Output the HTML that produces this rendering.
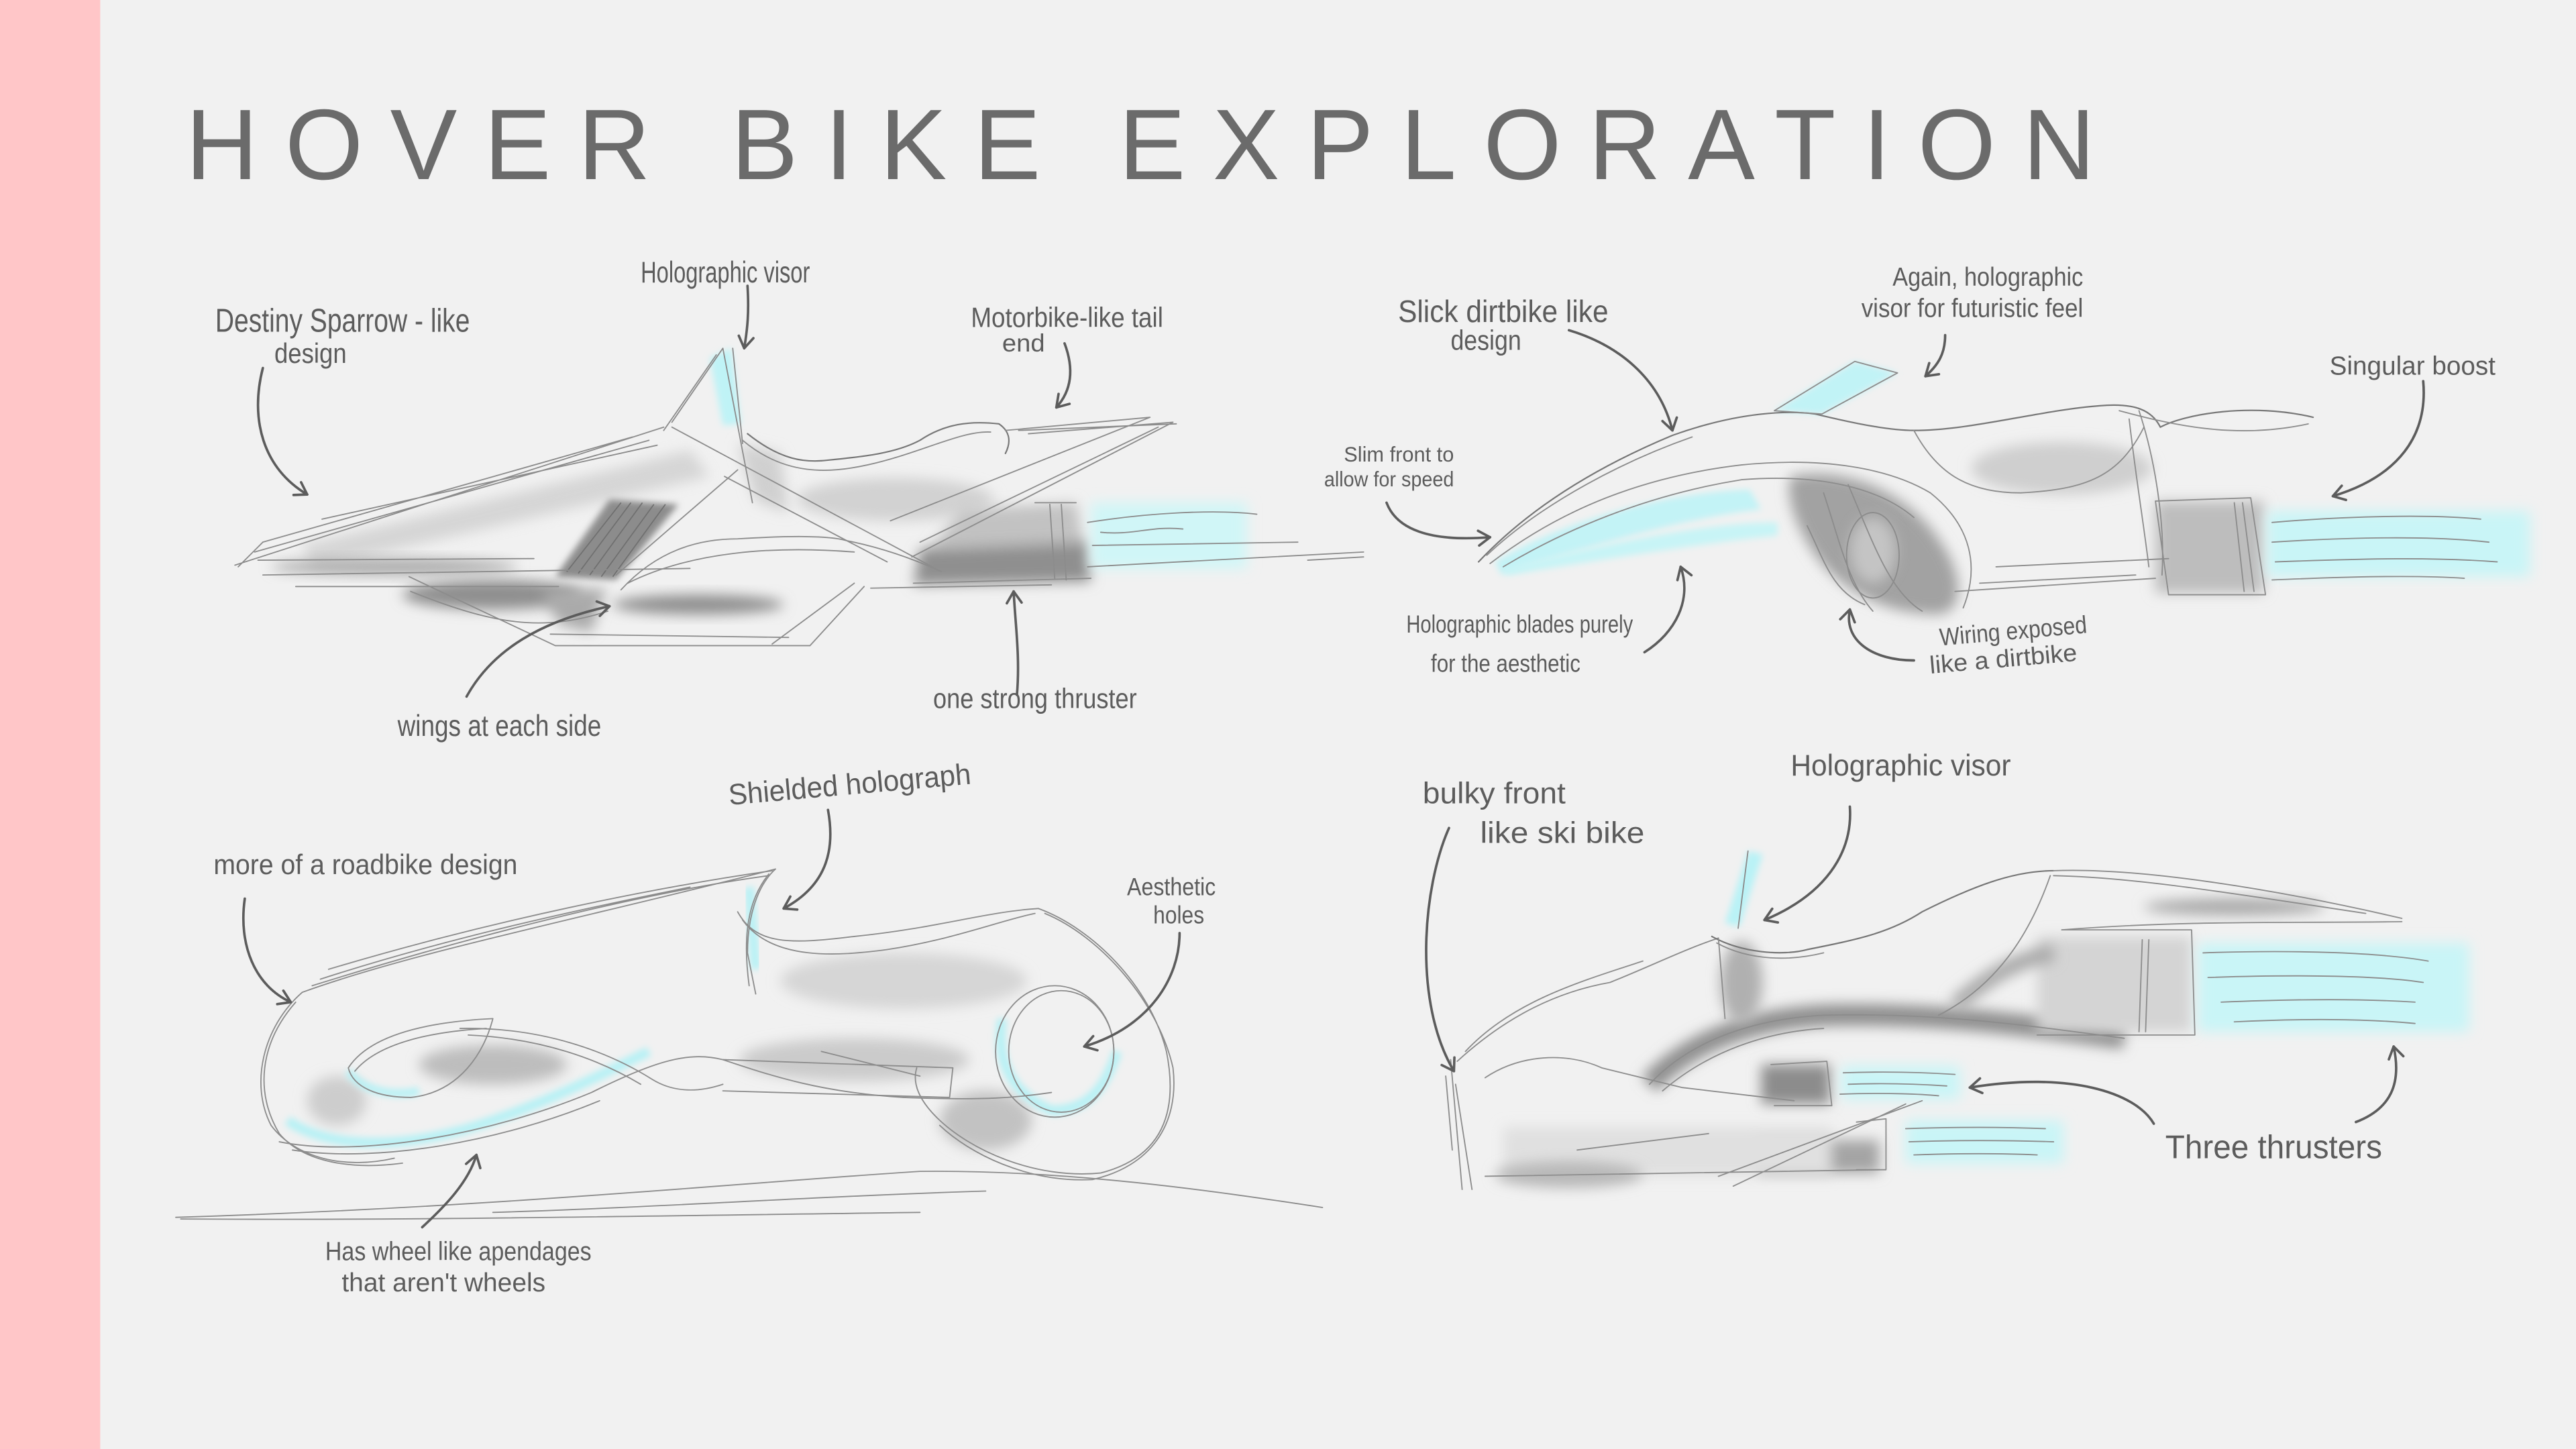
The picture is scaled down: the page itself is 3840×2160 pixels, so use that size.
<!DOCTYPE html>
<html><head><meta charset="utf-8">
<style>
html,body{margin:0;padding:0;background:#f1f1f1;}
body{width:3840px;height:2160px;overflow:hidden;}
svg{display:block;}
.t{font-family:"Liberation Sans",sans-serif;fill:#5c5c5c;}
.s{fill:none;stroke:#8c8c8c;stroke-width:0.75;stroke-linecap:round;stroke-linejoin:round;}
.d{fill:none;stroke:#777;stroke-width:0.9;stroke-linecap:round;stroke-linejoin:round;}
.a{fill:none;stroke:#5c5c5c;stroke-width:1.5;stroke-linecap:round;}
</style></head>
<body>
<svg width="3840" height="2160" viewBox="0 0 1568 882" xmlns="http://www.w3.org/2000/svg">
<defs>
<filter id="b" x="-50%" y="-50%" width="200%" height="200%"><feGaussianBlur stdDeviation="4"/></filter>
<filter id="b2" x="-50%" y="-50%" width="200%" height="200%"><feGaussianBlur stdDeviation="8"/></filter>
<filter id="b1" x="-50%" y="-50%" width="200%" height="200%"><feGaussianBlur stdDeviation="2"/></filter>
<marker id="ah" markerUnits="userSpaceOnUse" orient="auto" overflow="visible" refX="0" refY="0" markerWidth="10" markerHeight="10">
<path d="M-7,-4.5 L0,0 L-7,4.5" fill="none" stroke="#5c5c5c" stroke-width="1.5" stroke-linecap="round" stroke-linejoin="round"/>
</marker>
</defs>
<rect x="0" y="0" width="1568" height="882" fill="#f1f1f1"/>
<rect x="0" y="0" width="61" height="882" fill="#ffc6c8"/>

<!-- Title -->
<g font-family="Liberation Sans, sans-serif" font-size="61" fill="#6b6b6b" letter-spacing="16.5">
<text x="113" y="109">HOVER</text>
<text x="445" y="109">BIKE</text>
<text x="681" y="109">EXPLORATION</text>
</g>

<!-- ============ BIKE 1 (top-left) ============ -->
<g>
<polygon points="183,332 420,274 432,290 192,346" fill="#cfcfcf" opacity="0.8" filter="url(#b)"/>
<polygon points="449,270 475,276 480,312 460,305" fill="#d0d0d0" filter="url(#b)"/>
<ellipse cx="545" cy="304" rx="60" ry="13" fill="#d2d2d2" filter="url(#b)"/>
<polygon points="585,310 655,306 660,335 565,336" fill="#c2c2c2" filter="url(#b)"/>
<polygon points="560,334 662,330 664,354 556,356" fill="#8f8f8f" filter="url(#b)"/>
<polygon points="338,351 371,304 413,307 375,353" fill="#8c8c8c" filter="url(#b1)"/>
<path d="M345,348 L378,306 M352,349 L384,306 M359,350 L391,306 M366,351 L398,307 M373,351 L405,307" stroke="#6f6f6f" stroke-width="0.7" fill="none"/>
<ellipse cx="300" cy="362" rx="55" ry="9" fill="#8f8f8f" filter="url(#b)"/>
<ellipse cx="425" cy="368" rx="52" ry="6" fill="#8e8e8e" filter="url(#b)"/>
<ellipse cx="240" cy="345" rx="75" ry="5" fill="#aaaaaa" filter="url(#b)"/>
<polygon points="330,360 369,358 360,385 340,380" fill="#aaaaaa" filter="url(#b)"/>
<rect x="664" y="306" width="95" height="40" fill="#d0f6f7" filter="url(#b)"/>
<polygon points="432,218 445,212 451,258 440,259" fill="#bff3f6" filter="url(#b1)"/>
<path class="s" d="M143,344 L404,260 M155,336 L395,268 M196,316 L400,271 M160,330 L385,266 M157,341 L325,340 M160,350 L420,346 M180,357 L340,357 M145,345 L160,330"/>
<path class="s" d="M409,257 L440,212 L458,306 M404,262 L436,216 M446,212 L452,270"/>
<path class="d" d="M455,264 C475,280 490,282 505,280 C525,278 545,276 560,268 C575,258 590,256 608,258 C614,262 616,268 612,276"/>
<path class="s" d="M452,268 C478,290 505,288 528,283 C560,276 585,262 603,263"/>
<path class="s" d="M626,264 L714,257 L555,339 M612,262 L700,254 L542,317 M620,262 L716,258 M560,330 L705,260"/>
<path class="s" d="M409,260 L573,348 M449,286 L375,350 M441,290 L540,342"/>
<path class="s" d="M378,359 C400,335 425,328 449,328 C480,326 505,326 515,329 C540,334 560,342 573,348 M382,355 C420,336 470,332 520,336"/>
<path class="s" d="M249,351 L338,393 L493,393 L526,357 M335,386 L480,388 M470,392 L520,355 M250,360 C300,380 330,385 370,372"/>
<path class="s" d="M630,306 L655,306 M639,307 L642,352 M646,307 L649,353 M530,358 L640,356 M556,355 L664,352"/>
<path class="s" d="M662,318 C700,312 740,310 765,313 M665,332 L790,330 M662,345 L830,336 M670,324 C690,326 700,320 720,322"/>
</g>

<!-- ============ BIKE 2 (top-right) ============ -->
<g>
<path d="M910,342 C950,318 1010,300 1065,298 L1072,310 C1020,316 960,335 914,350 Z" fill="#c3f3f6" filter="url(#b1)"/>
<path d="M915,346 C980,330 1040,318 1082,318 L1082,326 C1040,330 980,340 918,350 Z" fill="#c7f4f6" filter="url(#b1)"/>
<polygon points="1080,250 1129,220 1155,227 1109,252" fill="#c1f3f6" filter="url(#b1)"/>
<path d="M1090,290 C1120,283 1160,298 1180,328 C1196,350 1196,372 1180,374 C1150,374 1125,362 1108,342 C1094,324 1086,302 1090,290 Z" fill="#a2a2a2" filter="url(#b)"/>
<ellipse cx="1140" cy="335" rx="14" ry="20" fill="#c4c4c4" filter="url(#b)"/>
<ellipse cx="1255" cy="285" rx="55" ry="16" fill="#cfcfcf" filter="url(#b)"/>
<rect x="1312" y="305" width="66" height="56" fill="#bdbdbd" filter="url(#b)"/>
<rect x="1380" y="311" width="160" height="40" fill="#c9f5f7" filter="url(#b)"/>
<path class="d" d="M900,342 C930,310 970,285 1018,265 C1060,250 1090,250 1105,252 C1130,258 1150,262 1165,262 C1200,262 1240,250 1278,247 C1300,245 1310,250 1315,260 C1330,252 1370,245 1408,254"/>
<path class="s" d="M905,338 C940,305 990,280 1030,266 M1290,250 C1320,258 1360,268 1405,258"/>
<path class="s" d="M907,343 C950,310 1000,290 1060,283 C1110,278 1150,285 1175,300 C1200,320 1205,345 1195,370 M915,345 C960,318 1010,300 1060,292 C1110,288 1145,298 1165,315"/>
<path class="s" d="M1110,300 C1120,330 1125,355 1140,372 M1125,295 C1140,330 1150,360 1170,372 M1100,320 C1110,340 1115,360 1135,368"/>
<ellipse class="s" cx="1140" cy="338" rx="16" ry="26"/>
<path class="s" d="M1190,360 L1312,352 M1215,345 L1320,340 M1205,355 L1300,350"/>
<path class="s" d="M1165,262 C1180,290 1200,300 1230,300 C1270,298 1290,290 1305,260"/>
<path class="s" d="M1302,250 C1312,280 1318,320 1316,350 M1296,255 C1300,290 1305,320 1308,345"/>
<path class="s" d="M1312,305 L1370,303 L1379,362 L1320,362 Z M1365,306 L1372,360 M1360,306 L1366,360"/>
<path class="s" d="M1383,318 C1430,314 1480,313 1510,316 M1383,330 C1430,327 1480,326 1515,330 M1385,342 C1440,340 1480,339 1520,342 M1383,353 C1430,351 1470,350 1500,352"/>
<path class="s" d="M1080,250 L1129,220 L1155,227 L1109,252 Z"/>
<path class="s" d="M796,341 L830,339"/>
</g>

<!-- ============ BIKE 3 (bottom-left) ============ -->
<g>
<ellipse cx="300" cy="648" rx="45" ry="12" fill="#bdbdbd" filter="url(#b)"/>
<ellipse cx="520" cy="645" rx="70" ry="13" fill="#cbcbcb" filter="url(#b)"/>
<ellipse cx="550" cy="597" rx="75" ry="17" fill="#d6d6d6" filter="url(#b)"/>
<ellipse cx="600" cy="682" rx="28" ry="18" fill="#c2c2c2" filter="url(#b)"/>
<ellipse cx="205" cy="670" rx="18" ry="15" fill="#cdcdcd" filter="url(#b)"/>
<path d="M175,682 C200,700 250,700 300,682 C340,668 370,652 395,640" fill="none" stroke="#b8f1f5" stroke-width="6" filter="url(#b1)"/>
<path d="M212,652 C220,664 240,668 255,664" fill="none" stroke="#b8f1f5" stroke-width="5" filter="url(#b1)"/>
<path d="M456,540 L460,590" fill="none" stroke="#b8f1f5" stroke-width="6" filter="url(#b1)"/>
<path d="M610,620 C606,645 615,665 640,676 C660,676 672,665 680,640" fill="none" stroke="#b8f1f5" stroke-width="6" filter="url(#b1)"/>
<path class="s" d="M184,604 C250,580 350,560 472,529 M190,600 C270,575 380,545 468,533 M200,590 C300,560 400,540 470,530 M195,596 C260,575 330,558 420,540"/>
<path class="s" d="M184,604 C160,625 152,660 165,685 C180,705 210,712 240,705 M180,610 C158,635 155,665 170,690 C185,708 215,712 245,708"/>
<path class="s" d="M170,695 C220,705 300,690 360,665 C400,645 420,640 440,645 C470,655 500,665 550,668 C600,670 620,668 640,665 M178,700 C230,708 305,695 365,670"/>
<path class="s" d="M280,626 C330,625 370,640 397,657 C410,665 425,665 440,660 M285,630 C330,632 365,645 390,660"/>
<path class="s" d="M212,650 C225,630 260,622 300,620 C295,640 280,665 250,668 C230,668 215,662 212,650 Z M216,652 C230,635 262,628 296,626"/>
<path class="s" d="M472,529 C460,540 455,560 455,580 L460,605 M468,532 C455,548 452,570 456,600"/>
<path class="s" d="M449,555 C460,575 480,575 520,570 C570,565 600,555 632,553 M452,560 C470,585 510,582 540,578 C580,572 610,560 630,556"/>
<path class="s" d="M632,553 C665,565 700,600 710,640 C718,680 705,705 670,714 C630,718 590,700 570,680 C560,670 555,660 558,650 M636,556 C670,570 705,610 714,650 C718,685 700,710 665,718 C625,720 590,702 572,685"/>
<ellipse class="s" cx="642" cy="640" rx="36" ry="40"/>
<ellipse class="s" cx="646" cy="640" rx="32" ry="37"/>
<path class="s" d="M440,645 L580,650 L578,668 L440,664 M500,640 L560,655"/>
<path class="s" d="M107,741 C300,735 450,720 560,713 C650,712 740,725 805,735 M110,742 C250,743 400,740 560,738 M300,738 C400,735 500,728 600,725"/>
</g>

<!-- ============ BIKE 4 (bottom-right) ============ -->
<g>
<path d="M1004,660 C1030,632 1070,620 1110,618 C1180,616 1240,625 1293,632" fill="none" stroke="#8e8e8e" stroke-width="13" filter="url(#b)"/>
<ellipse cx="1060" cy="598" rx="13" ry="25" fill="#b0b0b0" filter="url(#b)"/>
<ellipse cx="1360" cy="552" rx="55" ry="5" fill="#a8a8a8" filter="url(#b)"/>
<rect x="1240" y="570" width="94" height="58" fill="#d4d4d4" filter="url(#b)"/>
<path d="M1190,612 C1210,595 1225,585 1250,580" fill="none" stroke="#a9a9a9" stroke-width="10" filter="url(#b)"/>
<rect x="1338" y="574" width="165" height="54" fill="#c9f5f7" filter="url(#b)"/>
<rect x="1072" y="648" width="42" height="24" fill="#8c8c8c" filter="url(#b)"/>
<rect x="1121" y="649" width="72" height="20" fill="#c9f5f7" filter="url(#b)"/>
<rect x="1070" y="694" width="74" height="20" fill="#a4a4a4" filter="url(#b)"/>
<rect x="1160" y="682" width="96" height="26" fill="#c9f5f7" filter="url(#b)"/>
<rect x="915" y="686" width="200" height="30" fill="#e0e0e0" filter="url(#b)"/>
<ellipse cx="955" cy="715" rx="45" ry="8" fill="#b8b8b8" filter="url(#b)"/>
<polygon points="1050,562 1064,518 1073,520 1059,564" fill="#b9f2f6" filter="url(#b1)"/>
<path class="s" d="M883,645 L890,724 M886,660 L896,724 M880,655 L884,700"/>
<path class="s" d="M887,646 C910,625 940,605 980,598 C1005,588 1025,578 1046,571 M892,640 C920,610 960,598 1000,585"/>
<path class="d" d="M1042,570 C1060,580 1085,582 1100,578 C1130,572 1150,568 1170,555 C1200,540 1225,530 1250,530"/>
<path class="s" d="M1045,574 C1065,585 1090,585 1110,580 M1058,565 L1064,518 M1046,571 L1050,620"/>
<path class="s" d="M1250,530 C1300,528 1380,540 1462,559 M1462,561 C1400,562 1330,560 1255,566 M1250,533 C1300,534 1360,544 1440,556"/>
<path class="s" d="M1255,566 L1334,566 L1336,630 L1240,630 M1304,572 L1302,628 M1308,572 L1306,628"/>
<path class="s" d="M1248,533 C1235,570 1215,600 1180,618"/>
<path class="s" d="M904,656 C925,642 953,640 975,650 L1024,662 L1092,670 M1004,660 C1030,632 1070,620 1110,618 C1180,616 1240,625 1293,632 M1012,664 C1040,640 1075,628 1110,626"/>
<path class="s" d="M904,716 L1144,712 M960,700 L1040,690 M1170,670 L1046,716 M1160,672 L1055,722"/>
<path class="s" d="M1078,648 L1112,646 L1115,673 L1080,673 M1130,683 L1148,681 L1148,712 L1130,712"/>
<path class="s" d="M1341,580 C1400,578 1450,580 1478,585 M1344,595 C1400,593 1450,594 1475,598 M1352,610 C1400,608 1440,608 1470,610 M1360,622 C1400,620 1440,620 1470,623"/>
<path class="s" d="M1122,653 C1150,652 1175,653 1190,654 M1125,660 C1150,659 1170,660 1185,661 M1120,666 C1150,665 1170,666 1180,667"/>
<path class="s" d="M1160,687 C1190,686 1220,686 1245,687 M1162,695 C1190,694 1220,694 1250,695 M1165,703 C1190,702 1220,702 1240,703"/>
</g>

<!-- ============ ARROWS ============ -->
<g>
<path class="a" marker-end="url(#ah)" d="M160,224 C152,255 160,285 187,301"/>
<path class="a" marker-end="url(#ah)" d="M455,174 C456,190 455,200 453,212"/>
<path class="a" marker-end="url(#ah)" d="M648,209 C654,225 652,238 643,248"/>
<path class="a" marker-end="url(#ah)" d="M284,424 C300,395 330,378 371,369"/>
<path class="a" marker-end="url(#ah)" d="M619,423 C621,400 618,380 617,360"/>
<path class="a" marker-end="url(#ah)" d="M955,201 C985,210 1010,230 1018,262"/>
<path class="a" marker-end="url(#ah)" d="M1184,204 C1184,215 1180,222 1172,229"/>
<path class="a" marker-end="url(#ah)" d="M1475,232 C1478,265 1460,290 1420,302"/>
<path class="a" marker-end="url(#ah)" d="M844,306 C850,322 870,330 907,327"/>
<path class="a" marker-end="url(#ah)" d="M1001,397 C1020,385 1030,365 1023,345"/>
<path class="a" marker-end="url(#ah)" d="M1165,402 C1140,402 1122,390 1126,371"/>
<path class="a" marker-end="url(#ah)" d="M149,547 C145,575 155,600 177,610"/>
<path class="a" marker-end="url(#ah)" d="M504,493 C508,515 505,538 477,553"/>
<path class="a" marker-end="url(#ah)" d="M718,568 C718,595 700,625 660,637"/>
<path class="a" marker-end="url(#ah)" d="M257,747 C270,735 285,720 290,703"/>
<path class="a" marker-end="url(#ah)" d="M882,504 C866,540 860,610 885,652"/>
<path class="a" marker-end="url(#ah)" d="M1126,491 C1128,520 1110,545 1074,560"/>
<path class="a" marker-end="url(#ah)" d="M1311,684 C1300,665 1260,652 1199,662"/>
<path class="a" marker-end="url(#ah)" d="M1434,683 C1455,675 1462,660 1457,637"/>
</g>

<!-- ============ LABELS ============ -->
<g class="t">
<text x="131" y="202" font-size="20" textLength="155" lengthAdjust="spacingAndGlyphs">Destiny Sparrow - like</text>
<text x="167" y="221" font-size="17" textLength="44" lengthAdjust="spacingAndGlyphs">design</text>
<text x="390" y="172" font-size="18" textLength="103" lengthAdjust="spacingAndGlyphs">Holographic visor</text>
<text x="591" y="199" font-size="17" textLength="117" lengthAdjust="spacingAndGlyphs">Motorbike-like tail</text>
<text x="610" y="214" font-size="15" textLength="26" lengthAdjust="spacingAndGlyphs">end</text>
<text x="242" y="448" font-size="18" textLength="124" lengthAdjust="spacingAndGlyphs">wings at each side</text>
<text x="568" y="431" font-size="17" textLength="124" lengthAdjust="spacingAndGlyphs">one strong thruster</text>

<text x="851" y="196" font-size="19" textLength="128" lengthAdjust="spacingAndGlyphs">Slick dirtbike like</text>
<text x="883" y="213" font-size="17" textLength="43" lengthAdjust="spacingAndGlyphs">design</text>
<text x="1152" y="174" font-size="16" textLength="116" lengthAdjust="spacingAndGlyphs">Again, holographic</text>
<text x="1133" y="193" font-size="16" textLength="135" lengthAdjust="spacingAndGlyphs">visor for futuristic feel</text>
<text x="1418" y="228" font-size="16" textLength="101" lengthAdjust="spacingAndGlyphs">Singular boost</text>
<text x="818" y="281" font-size="13" textLength="67" lengthAdjust="spacingAndGlyphs">Slim front to</text>
<text x="806" y="296" font-size="13" textLength="79" lengthAdjust="spacingAndGlyphs">allow for speed</text>
<text x="856" y="385" font-size="15" textLength="138" lengthAdjust="spacingAndGlyphs">Holographic blades purely</text>
<text x="871" y="409" font-size="15" textLength="91" lengthAdjust="spacingAndGlyphs">for the aesthetic</text>
<text x="1181" y="393" font-size="15" textLength="90" lengthAdjust="spacingAndGlyphs" transform="rotate(-5 1181 393)">Wiring exposed</text>
<text x="1175" y="410" font-size="15" textLength="90" lengthAdjust="spacingAndGlyphs" transform="rotate(-5 1175 410)">like a dirtbike</text>

<text x="444" y="490" font-size="18" textLength="148" lengthAdjust="spacingAndGlyphs" transform="rotate(-5 444 490)">Shielded holograph</text>
<text x="130" y="532" font-size="17" textLength="185" lengthAdjust="spacingAndGlyphs">more of a roadbike design</text>
<text x="686" y="545" font-size="15" textLength="54" lengthAdjust="spacingAndGlyphs">Aesthetic</text>
<text x="702" y="562" font-size="15" textLength="31" lengthAdjust="spacingAndGlyphs">holes</text>
<text x="198" y="767" font-size="16" textLength="162" lengthAdjust="spacingAndGlyphs">Has wheel like apendages</text>
<text x="208" y="786" font-size="16" textLength="124" lengthAdjust="spacingAndGlyphs">that aren't wheels</text>

<text x="866" y="489" font-size="18" textLength="87" lengthAdjust="spacingAndGlyphs">bulky front</text>
<text x="901" y="513" font-size="18" textLength="100" lengthAdjust="spacingAndGlyphs">like ski bike</text>
<text x="1090" y="472" font-size="18" textLength="134" lengthAdjust="spacingAndGlyphs">Holographic visor</text>
<text x="1318" y="705" font-size="20" textLength="132" lengthAdjust="spacingAndGlyphs">Three thrusters</text>
</g>
</svg>
</body></html>
